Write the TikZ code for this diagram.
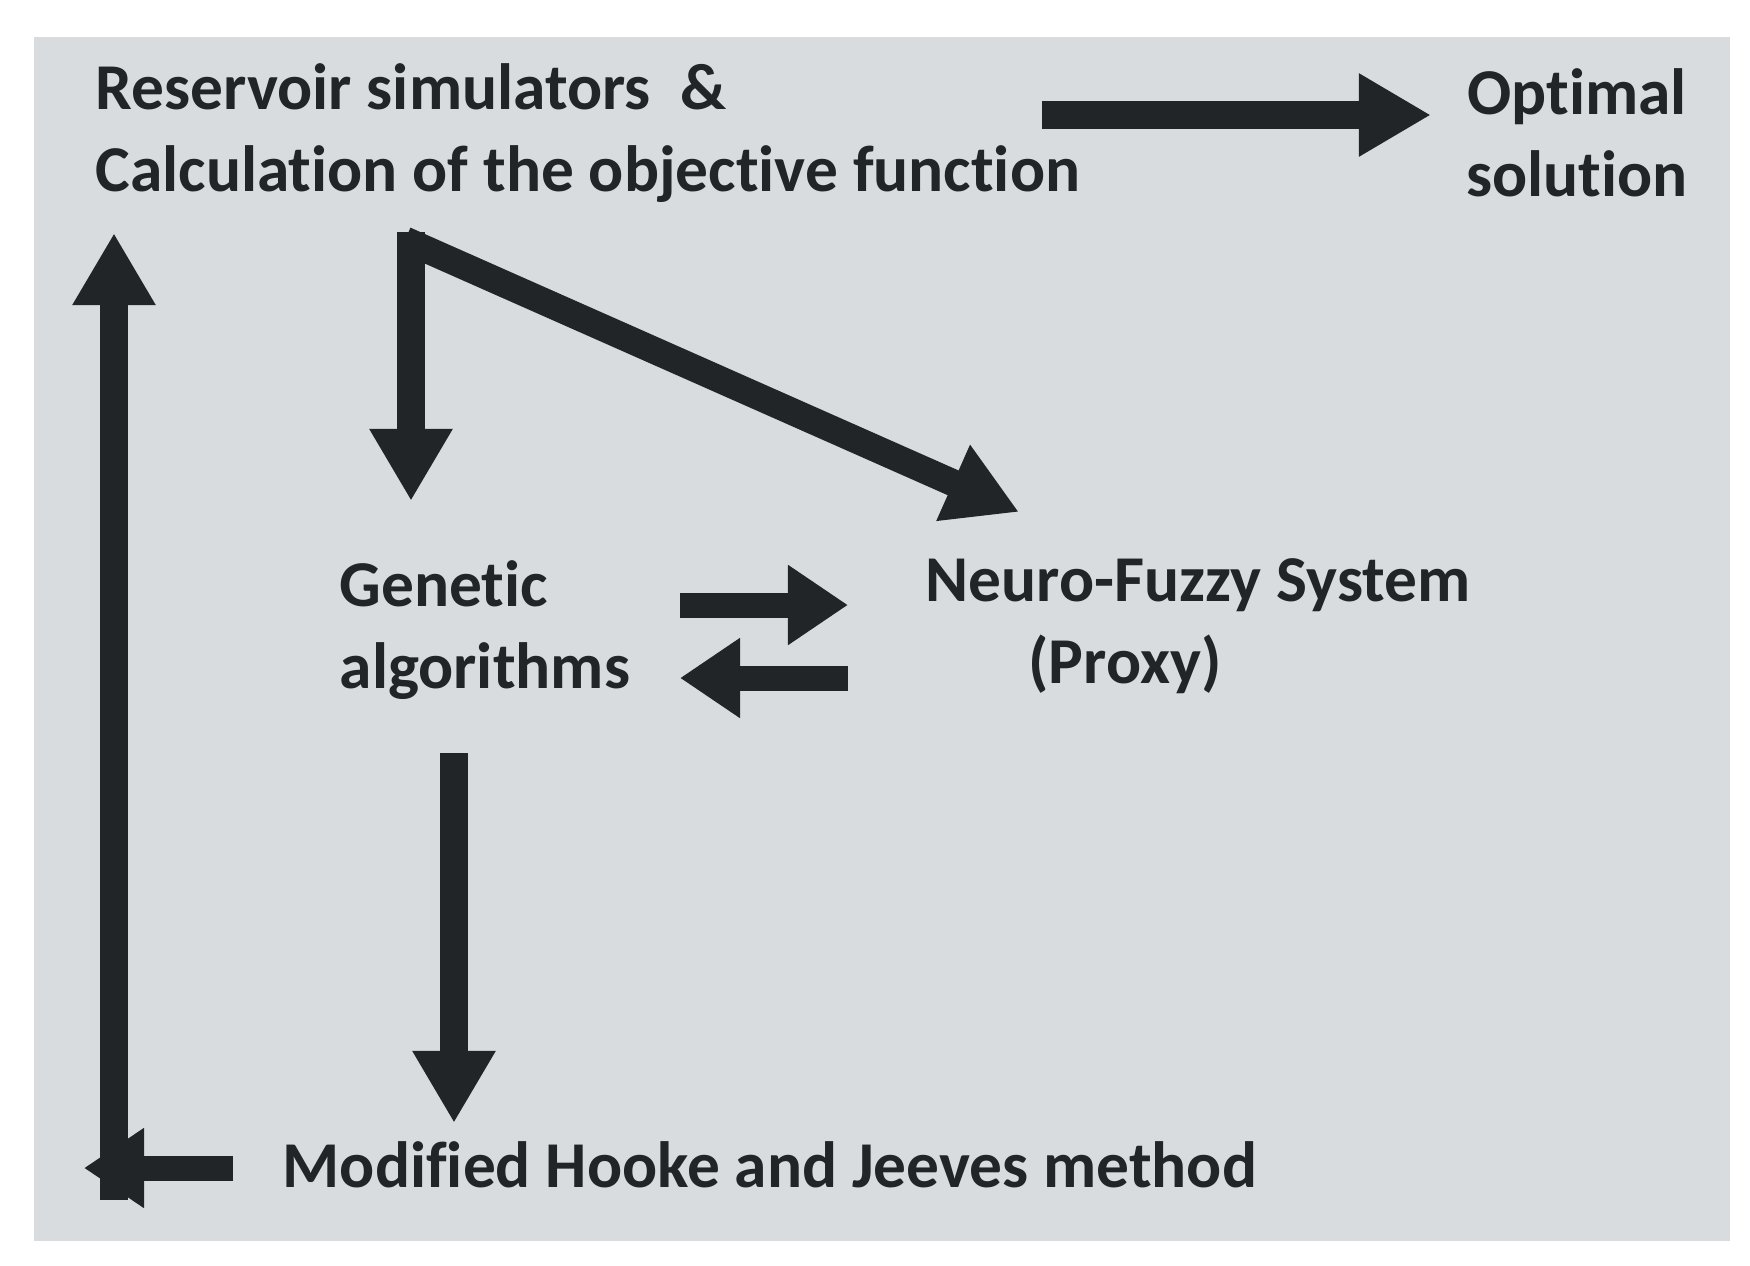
\documentclass[tikz,border=0pt]{standalone}
\usepackage{fontspec}
\setmainfont{Carlito}[Ligatures=NoCommon]
\usetikzlibrary{arrows.meta}
\definecolor{bg}{RGB}{217,220,223}
\definecolor{ink}{RGB}{34,37,39}
\begin{document}
\begin{tikzpicture}[x=0.01cm,y=-0.01cm,
  lbl/.style={text=ink,font=\bfseries\fontsize{18.6}{23.2}\selectfont,inner sep=0pt,align=left},
  big/.style={draw=ink,line width=0.27cm,-{Triangle[width=0.78cm,length=0.72cm]}},
  mid/.style={draw=ink,line width=0.25cm,-{Triangle[width=0.76cm,length=0.6cm]}}]
\useasboundingbox (0,0) rectangle (1750,1266);
\fill[bg] (34,37) rectangle (1730,1241);
\node[lbl,anchor=west] (res) at (95,133) {Reservoir simulators\ \ \&\\Calculation of the objective function};
\node[lbl,align=center] (opt) at (1577,133) {Optimal\\solution};
\node[lbl,anchor=west] (ga) at (339,630) {Genetic\\algorithms};
\node[lbl,align=center] (nf) at (1198,626) {Neuro-Fuzzy System\\\hspace*{-1.46cm}(Proxy)};
\node[lbl,anchor=west] (hj) at (282,1165) {Modified Hooke and Jeeves method};
\coordinate (t1) at (1042,115); \coordinate (t2) at (1431,115);
\draw[big] (t1) -- (t2);
\coordinate (b0) at (411,235); \coordinate (b1) at (411,501); \coordinate (b2) at (1019,512);
\draw[big] (411,232) -- (b1);
\draw[big] (405,240) -- (b2);
\coordinate (r1) at (680,605); \coordinate (r2) at (848,605);
\draw[mid] (r1) -- (r2);
\coordinate (l1) at (848,678); \coordinate (l2) at (680,678);
\draw[mid] (l1) -- (l2);
\coordinate (g1) at (454,753); \coordinate (g2) at (454,1123);
\draw[big] (g1) -- (g2);
\coordinate (h1) at (233,1168); \coordinate (h2) at (84,1168);
\draw[mid] (h1) -- (h2);
\coordinate (v1) at (114,1200); \coordinate (v2) at (114,233);
\draw[big] (v1) -- (v2);
\end{tikzpicture}
\end{document}
